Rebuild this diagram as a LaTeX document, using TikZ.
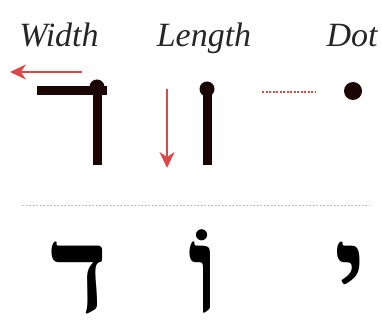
\documentclass[tikz,border=0pt]{standalone}
\usepackage{fontspec}
\setmainfont{Liberation Serif}
\newfontfamily\hebrewfont[Script=Hebrew]{Liberation Serif}
\TeXXeTstate=1
\usetikzlibrary{arrows.meta,positioning}
\definecolor{inkred}{HTML}{E04646}
\definecolor{inkdark}{HTML}{1A0404}
\definecolor{rulegray}{HTML}{BDBDBD}
\tikzset{
  heading/.style={font=\itshape\fontsize{34}{34}\selectfont,anchor=base,inner sep=0pt,text=black!85},
  penstroke/.style={line width=9pt,draw=inkdark},
  blob/.style={circle,fill=inkdark,inner sep=0pt,minimum size=15pt},
  move/.style={-{Stealth[length=16pt,width=15pt]},line width=2.2pt,draw=inkred},
  letter/.style={font=\hebrewfont\bfseries\fontsize{120}{120}\selectfont,anchor=base,inner sep=0pt,text depth=0pt,text=black}
}

\begin{document}
\begin{tikzpicture}[x=1pt,y=-1pt]
  \useasboundingbox (0,0) rectangle (382,320);

  % headings
  \node[heading] (hwidth) at (59,47) {Width};
  \node[heading] (hlength) at (204,47) {Length};
  \node[heading] (hdot) at (352,47) {Dot};

  % width stroke
  \coordinate (wleft) at (37,91);
  \coordinate (wcorner) at (97,91);
  \coordinate (wright) at (107,91);
  \coordinate (wfoot) at (97,165);
  \draw[penstroke] (wleft) -- (wright);
  \draw[penstroke] (wcorner) -- (wfoot);
  \node[blob] (wdot) at (97,87) {};
  \coordinate (warrfrom) at (82,72);
  \coordinate (warrto) at (10,72);
  \draw[move] (warrfrom) -- (warrto);

  % length stroke
  \node[blob] (ldot) at (207,89) {};
  \coordinate (lfoot) at (207,165);
  \draw[penstroke] (ldot.center) -- (lfoot);
  \coordinate (larrfrom) at (167,89);
  \coordinate (larrto) at (167,168);
  \draw[move] (larrfrom) -- (larrto);

  % dot
  \coordinate (dfrom) at (262,92);
  \coordinate (dto) at (316,92);
  \draw[inkred,line width=1.4pt,dash pattern=on 2pt off 1.5pt] (dfrom) -- (dto);
  \node[blob,minimum size=18pt] (ddot) at (353,91) {};

  % separator
  \coordinate (sepleft) at (22,205);
  \coordinate (sepright) at (370,205);
  \draw[rulegray,line width=1pt,dash pattern=on 2pt off 1.5pt] (sepleft) -- (sepright);

  % letters
  \node[letter] (dalet) at (79,312) {\beginR ד\endR};
  \node[letter] (vav) at (204,312) {\beginR וֹ\endR};
  \node[letter] (yod) at (350,312) {\beginR י\endR};
\end{tikzpicture}
\end{document}
